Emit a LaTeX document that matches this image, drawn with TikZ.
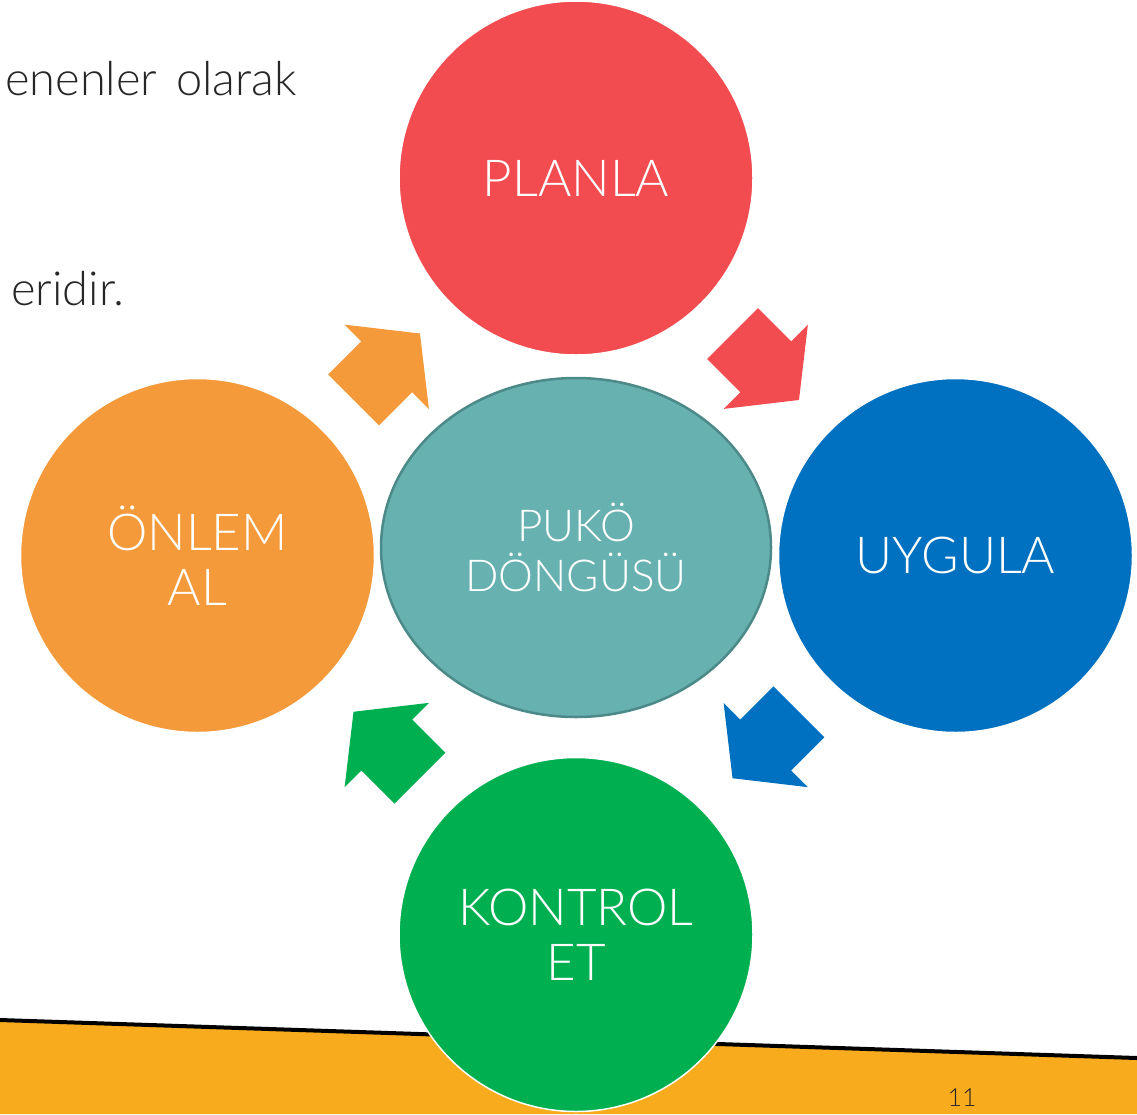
\documentclass[tikz,border=0pt]{standalone}
\usepackage{fontspec}
\setmainfont{Lato}[UprightFont=* Light]
\usetikzlibrary{shapes.geometric,calc}
\definecolor{planred}{HTML}{F24C50}
\definecolor{doblue}{HTML}{0070C0}
\definecolor{checkgreen}{HTML}{00B050}
\definecolor{actorange}{HTML}{F49A3A}
\definecolor{cycleteal}{HTML}{67B1B0}
\definecolor{cycleedge}{HTML}{4C8A89}
\definecolor{bandorange}{HTML}{F8AB1C}
\definecolor{darktext}{HTML}{262626}
\tikzset{
  stepcircle/.style={circle,minimum size=354pt,inner sep=0pt,draw=white,line width=1.5pt,
    text=white,align=center,font=\fontsize{51}{55}\selectfont},
  slidetext/.style={anchor=base east,inner sep=0pt,text=darktext,font=\fontsize{47}{52}\selectfont},
  cyclearrow/.pic={\fill (-47,36) -- (0,36) -- (0,59.6) -- (47,0) -- (0,-59.6) -- (0,-36) -- (-47,-36) -- cycle;}
}
\begin{document}
\begin{tikzpicture}[x=1pt,y=1pt]
\useasboundingbox (0,0) rectangle (1137,-1114);
% text of the slide behind
\node[slidetext] (txta) at (297,-95) {enenler\hspace{0.4em}olarak};
\node[slidetext] (txtb) at (125,-305) {eridir.};
% footer band
\fill[bandorange] (0,-1020) -- (1137,-1058) -- (1137,-1114) -- (0,-1114) -- cycle;
\draw[line width=4pt] (0,-1020) -- (1137,-1058);
\node[text=darktext,font=\fontsize{25}{30}\selectfont] (pagenum) at (962,-1098) {11};
% the four steps
\node[stepcircle,fill=planred] (plan) at (576,-178) {PLANLA};
\node[stepcircle,fill=doblue] (do) at (955.5,-555.5) {UYGULA};
\node[stepcircle,fill=checkgreen] (check) at (576,-934.5) {KONTROL\\ET};
\node[stepcircle,fill=actorange] (act) at (197.5,-555.5) {ÖNLEM\\AL};
% arrows between them
\pic[fill=planred,rotate=-45] at ($(plan)!.5!(do)$) {cyclearrow};
\pic[fill=doblue,rotate=-135] at ($(do)!.5!(check)$) {cyclearrow};
\pic[fill=checkgreen,rotate=135] at ($(check)!.5!(act)$) {cyclearrow};
\pic[fill=actorange,rotate=45] at ($(act)!.5!(plan)$) {cyclearrow};
% centre
\node[ellipse,minimum width=390pt,minimum height=339pt,inner sep=0pt,fill=cycleteal,draw=cycleedge,
  line width=2.5pt,text=white,align=center,font=\fontsize{44}{50}\selectfont] (cycle) at (576,-547.5) {PUKÖ\\DÖNGÜSÜ};
\end{tikzpicture}
\end{document}
